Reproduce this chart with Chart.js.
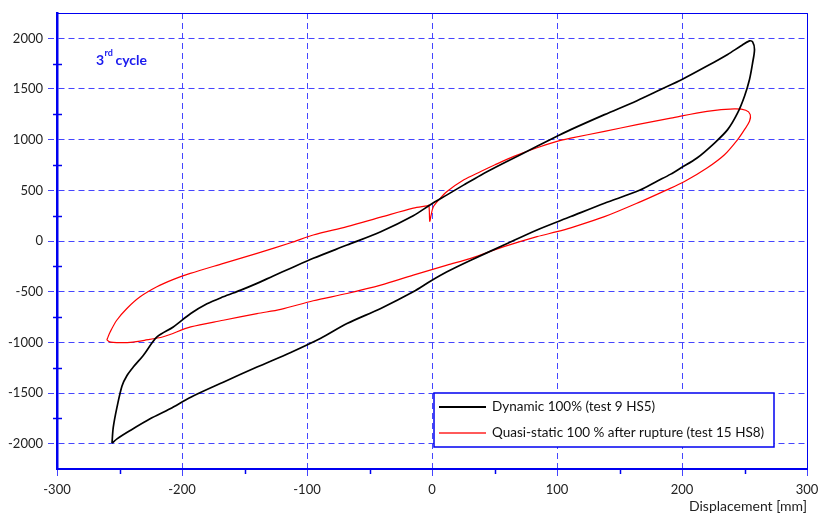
<!DOCTYPE html>
<html>
<head>
<meta charset="utf-8">
<script src="https://cdn.jsdelivr.net/npm/chart.js@4.4.1/dist/chart.umd.min.js"></script>
<style>
  html, body { margin: 0; padding: 0; background: #fff; }
  #wrap { width: 827px; height: 516px; }
</style>
</head>
<body>
<div id="wrap"><canvas id="chart" width="827" height="516"></canvas></div>
<script>
// 3rd cycle, displacement [mm] vs force
const dynamicX = [-256, -255, -252, -248, -244, -239, -231, -220, -207, -193, -180, -167, -153, -140, -127, -113,
  -95, -68, -41, -15, -1, 12, 25.5, 39, 57.5, 84, 100, 111, 138, 164, 183, 200, 220, 236.5, 247, 254, 256.5,
  258, 256.5, 254, 250, 244.5, 236.5, 226, 212, 199, 191, 180, 166, 138, 111, 84, 57.5, 31, 12, -1, -15,
  -41, -68, -89, -113, -140, -167, -193, -209.5, -225.5, -241.5, -252, -256];
const dynamicY = [-1995, -1840, -1640, -1430, -1327, -1244, -1129, -947, -848, -716, -620, -551, -485, -418, -345, -268,
  -171, -40, 92, 250, 360, 455, 554, 650, 769, 934, 1033, 1099, 1247, 1385, 1495, 1594, 1726, 1841, 1924, 1975, 1965,
  1891, 1759, 1594, 1429, 1264, 1099, 967, 819, 720, 660, 590, 500, 373, 241, 109, -40, -190, -304, -395, -502,
  -666, -815, -960, -1100, -1244, -1393, -1541, -1656, -1755, -1871, -1953, -1995];

const quasiX = [-250, -257, -260, -259.7, -257.5, -252.2, -244.1, -233.5, -220.1, -206.8, -193.4, -166.8, -140, -113, -95, -68,
  -41, -15, -4, -2.5, -1.8, -0.8, 1, 5.5, 12, 25.5, 39, 50, 65.5, 84, 100, 111, 138, 164, 191, 220, 242, 251,
  254.6, 254, 250, 244.5, 234, 220, 202, 187, 167, 138, 111, 100, 84, 57.5, 31, 12, -15, -41, -68, -95, -121,
  -140, -167, -193, -215, -230, -241.5, -250];
const quasiY = [-1003, -998, -975, -963, -898, -782, -666, -551, -452, -379, -320, -221, -122, -17, 59, 142,
  235, 324, 347, 352, 195, 250, 335, 406, 488, 604, 686, 750, 835, 920, 983, 1015, 1082, 1148, 1213, 1280, 1304, 1290,
  1247, 1181, 1099, 1000, 851, 720, 587, 500, 389, 240, 130, 92, 43, -56, -171, -238, -337, -436, -518, -590, -675,
  -716, -782, -848, -945, -980, -1000, -1003];

const xTicks = [-300, -200, -100, 0, 100, 200, 300];
const yTicks = [-2000, -1500, -1000, -500, 0, 500, 1000, 1500, 2000];
const xMinor = [-250, -150, -50, 50, 150, 250];
const yMinor = [-1750, -1250, -750, -250, 250, 750, 1250, 1750];

const seriesLabels = ['Dynamic 100% (test 9 HS5)', 'Quasi-static 100 % after rupture (test 15 HS8)'];

const BLUE = '#0000f0';
const GRID = '#4545ff';
const FONT = 'Lato, "Open Sans", sans-serif';

function toPoints(xs, ys) {
  return xs.map((x, i) => ({ x: x, y: ys[i] }));
}

// frame on top/right, minor ticks, legend box and the cycle note
const decorations = {
  id: 'decorations',
  afterDraw(chart) {
    const ctx = chart.ctx;
    const a = chart.chartArea;
    const xs = chart.scales.x, ys = chart.scales.y;
    ctx.save();

    ctx.strokeStyle = BLUE;
    ctx.lineWidth = 1;
    ctx.beginPath();
    ctx.moveTo(a.left, a.top + 0.5);
    ctx.lineTo(a.right + 0.5, a.top + 0.5);
    ctx.lineTo(a.right + 0.5, a.bottom);
    ctx.stroke();

    ctx.lineWidth = 1.5;
    yMinor.forEach(v => {
      const p = Math.round(ys.getPixelForValue(v)) + 0.5;
      ctx.beginPath();
      ctx.moveTo(a.left - 4, p);
      ctx.lineTo(a.left + 5, p);
      ctx.stroke();
    });
    xMinor.forEach(v => {
      const p = Math.round(xs.getPixelForValue(v)) + 0.5;
      ctx.beginPath();
      ctx.moveTo(p, a.bottom);
      ctx.lineTo(p, a.bottom + 5);
      ctx.stroke();
    });

    // legend
    const lx = 434, ly = 393, lw = 340, lh = 54;
    ctx.fillStyle = '#fff';
    ctx.fillRect(lx, ly, lw, lh);
    ctx.strokeStyle = BLUE;
    ctx.lineWidth = 1.5;
    ctx.strokeRect(lx, ly, lw, lh);
    const sampleColors = ['#000', '#ff5a5a'];
    const rows = [407, 433];
    ctx.font = '13.5px ' + FONT;
    ctx.textBaseline = 'middle';
    ctx.textAlign = 'left';
    seriesLabels.forEach((lab, i) => {
      ctx.strokeStyle = sampleColors[i];
      ctx.lineWidth = 2;
      ctx.beginPath();
      ctx.moveTo(439, rows[i]);
      ctx.lineTo(486, rows[i]);
      ctx.stroke();
      ctx.fillStyle = '#111';
      ctx.fillText(lab, 492, rows[i]);
    });

    // cycle note
    ctx.fillStyle = '#1a1aee';
    ctx.textBaseline = 'alphabetic';
    ctx.font = 'bold 14px ' + FONT;
    ctx.fillText('3', 96, 65);
    const w3 = ctx.measureText('3').width;
    ctx.font = 'bold 9px ' + FONT;
    ctx.fillText('rd', 96 + w3 + 0.5, 56);
    const wrd = ctx.measureText('rd').width;
    ctx.font = 'bold 14px ' + FONT;
    ctx.fillText('cycle', 96 + w3 + wrd + 3, 65);

    ctx.restore();
  }
};

new Chart(document.getElementById('chart'), {
  type: 'scatter',
  data: {
    datasets: [
      {
        label: seriesLabels[0],
        data: toPoints(dynamicX, dynamicY),
        showLine: true,
        borderColor: '#000',
        borderWidth: 1.7,
        pointRadius: 0,
        tension: 0.3,
        fill: false
      },
      {
        label: seriesLabels[1],
        data: toPoints(quasiX, quasiY),
        showLine: true,
        borderColor: '#ff0000',
        borderWidth: 1.2,
        pointRadius: 0,
        tension: 0.3,
        fill: false
      }
    ]
  },
  options: {
    responsive: false,
    animation: false,
    layout: { padding: { top: 13, right: 20, left: 0, bottom: 0 } },
    plugins: {
      legend: { display: false },
      tooltip: { enabled: false }
    },
    scales: {
      x: {
        type: 'linear',
        min: -300,
        max: 300,
        afterBuildTicks: s => { s.ticks = xTicks.map(v => ({ value: v })); },
        afterFit: s => { s.height = 47; },
        border: { color: BLUE, width: 2, dash: [6, 4] },
        grid: { color: GRID, lineWidth: 1, tickColor: GRID, tickLength: 8, tickBorderDash: [6, 4] },
        ticks: { color: '#222', font: { family: FONT, size: 13 }, padding: 5, maxRotation: 0, callback: v => String(v) },
        title: {
          display: true,
          text: 'Displacement [mm]',
          align: 'end',
          color: '#222',
          font: { family: FONT, size: 14 },
          padding: { top: 0, bottom: 1 }
        }
      },
      y: {
        type: 'linear',
        min: -2250,
        max: 2250,
        afterBuildTicks: s => { s.ticks = yTicks.map(v => ({ value: v })); },
        afterFit: s => { s.width = 57; },
        border: { color: BLUE, width: 2.5, dash: [6, 4] },
        grid: { color: GRID, lineWidth: 1, tickColor: GRID, tickLength: 9, tickBorderDash: [6, 4] },
        ticks: { color: '#222', font: { family: FONT, size: 13 }, padding: 5, callback: v => String(v) }
      }
    }
  },
  plugins: [decorations]
});
</script>
</body>
</html>
